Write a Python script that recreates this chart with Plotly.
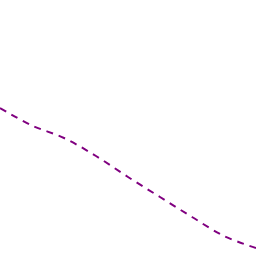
import plotly.graph_objects as go

x_vals = [0, 1, 2, 3, 4, 5, 6, 7, 8]
y_vals = [148, 130.5, 118, 100, 79, 59, 39, 20, 8]

fig = go.Figure(go.Scatter(
    x=x_vals, y=y_vals, mode="lines",
    line=dict(color="#800080", width=2, dash="7px,6px", shape="spline"),
    hoverinfo="skip",
))
fig.update_layout(
    width=256, height=256,
    margin=dict(l=0, r=0, t=0, b=0),
    paper_bgcolor="white", plot_bgcolor="white",
    showlegend=False,
    xaxis=dict(range=[0, 8], visible=False),
    yaxis=dict(range=[0, 256], visible=False),
)
fig.write_html("out.html", config={"displayModeBar": False})
